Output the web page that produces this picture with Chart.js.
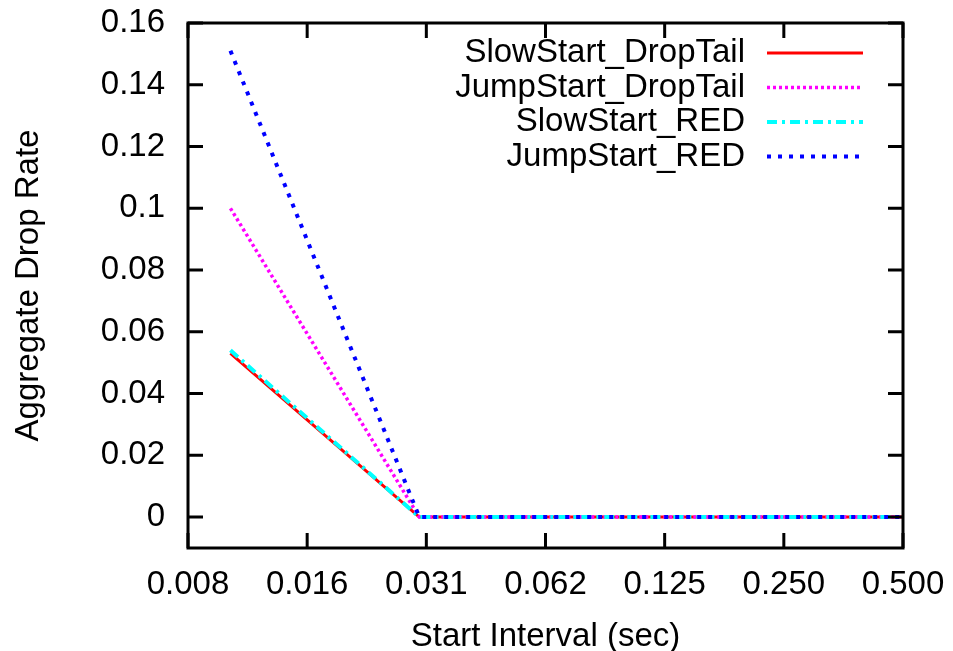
<!DOCTYPE html>
<html>
<head>
<meta charset="utf-8">
<script src="https://cdn.jsdelivr.net/npm/chart.js@4/dist/chart.umd.min.js"></script>
<style>
  html, body { margin: 0; padding: 0; background: #fff; }
  #wrap { width: 953px; height: 651px; }
</style>
</head>
<body>
<div id="wrap"><canvas id="chart"></canvas></div>
<script>
// start interval (sec), log2 axis
const intervals = [0.01, 0.03, 0.0625, 0.125, 0.25, 0.5];
const slowStartDropTail = [0.053, 0, 0, 0, 0, 0];
const jumpStartDropTail = [0.1, 0, 0, 0, 0, 0];
const slowStartRED = [0.054, 0, 0, 0, 0, 0];
const jumpStartRED = [0.151, 0, 0, 0, 0, 0];

const xTickValues = [0.0078125, 0.015625, 0.03125, 0.0625, 0.125, 0.25, 0.5];
const xTickLabels = ['0.008', '0.016', '0.031', '0.062', '0.125', '0.250', '0.500'];
const yTickValues = [0, 0.02, 0.04, 0.06, 0.08, 0.1, 0.12, 0.14, 0.16];
const yTickLabels = ['0', '0.02', '0.04', '0.06', '0.08', '0.1', '0.12', '0.14', '0.16'];

const FONT = 'Liberation Sans, Arial, sans-serif';

const pts = vals => vals.map((v, i) => ({x: intervals[i], y: v}));

// gnuplot-like frame: box, inward ticks, key with samples on the right
const framePlugin = {
    id: 'frame',
    afterDatasetsDraw(chart) {
        const {ctx, chartArea: a, scales: {x, y}} = chart;
        ctx.save();
        ctx.strokeStyle = '#000';
        ctx.lineWidth = 3;
        ctx.beginPath();
        x.ticks.forEach(t => {
            const px = x.getPixelForValue(t.value);
            ctx.moveTo(px, a.bottom); ctx.lineTo(px, a.bottom - 15);
            ctx.moveTo(px, a.top); ctx.lineTo(px, a.top + 15);
        });
        y.ticks.forEach(t => {
            const py = y.getPixelForValue(t.value);
            ctx.moveTo(a.left, py); ctx.lineTo(a.left + 15, py);
            ctx.moveTo(a.right, py); ctx.lineTo(a.right - 15, py);
        });
        ctx.stroke();
        ctx.strokeRect(a.left, a.top, a.width, a.height);

        // key
        ctx.font = '33px ' + FONT;
        ctx.textAlign = 'right';
        ctx.textBaseline = 'middle';
        chart.data.datasets.forEach((ds, i) => {
            const ry = a.top + 30 + i * 34.5;
            ctx.fillStyle = '#000';
            ctx.fillText(ds.label, a.right - 158, ry);
            ctx.strokeStyle = ds.borderColor;
            ctx.lineWidth = ds.borderWidth;
            ctx.setLineDash(ds.borderDash || []);
            ctx.beginPath();
            ctx.moveTo(a.right - 136, ry);
            ctx.lineTo(a.right - 40, ry);
            ctx.stroke();
        });
        ctx.restore();
    }
};

new Chart(document.getElementById('chart'), {
    type: 'line',
    data: {
        datasets: [
            {label: 'SlowStart_DropTail', data: pts(slowStartDropTail), borderColor: '#ff0000', borderWidth: 3, order: 3},
            {label: 'JumpStart_DropTail', data: pts(jumpStartDropTail), borderColor: '#ff00ff', borderWidth: 3.5, borderDash: [3, 3], order: 2},
            {label: 'SlowStart_RED', data: pts(slowStartRED), borderColor: '#00ffff', borderWidth: 4, borderDash: [10, 5, 3, 5], order: 1},
            {label: 'JumpStart_RED', data: pts(jumpStartRED), borderColor: '#0000ff', borderWidth: 4, borderDash: [4, 7], order: 0}
        ]
    },
    options: {
        responsive: true,
        maintainAspectRatio: false,
        animation: false,
        layout: {padding: {top: 23, right: 50, left: 0, bottom: 0}},
        elements: {
            point: {radius: 0},
            line: {tension: 0, borderCapStyle: 'butt'}
        },
        plugins: {
            legend: {display: false},
            tooltip: {enabled: false}
        },
        scales: {
            x: {
                type: 'logarithmic',
                min: 0.0078125,
                max: 0.5,
                afterBuildTicks: scale => { scale.ticks = xTickValues.map(v => ({value: v})); },
                afterFit: scale => {
                    scale.height = 103;
                    scale.paddingLeft = 0;
                    scale.paddingRight = 0;
                },
                grid: {display: false, drawTicks: false},
                border: {display: false},
                ticks: {
                    autoSkip: false,
                    maxRotation: 0,
                    padding: 17,
                    color: '#000',
                    font: {family: FONT, size: 33},
                    callback: (v, i) => xTickLabels[i]
                },
                title: {
                    display: true,
                    text: 'Start Interval (sec)',
                    color: '#000',
                    font: {family: FONT, size: 33},
                    padding: {top: 0, bottom: -6}
                }
            },
            y: {
                type: 'linear',
                min: -0.01,
                max: 0.16,
                afterBuildTicks: scale => { scale.ticks = yTickValues.map(v => ({value: v})); },
                afterFit: scale => {
                    scale.width = 188;
                    scale.paddingTop = 0;
                    scale.paddingBottom = 0;
                },
                grid: {display: false, drawTicks: false},
                border: {display: false},
                ticks: {
                    padding: 23,
                    color: '#000',
                    font: {family: FONT, size: 33},
                    callback: (v, i) => yTickLabels[i]
                },
                title: {
                    display: true,
                    text: 'Aggregate Drop Rate',
                    color: '#000',
                    font: {family: FONT, size: 33},
                    padding: {top: 9, bottom: 0}
                }
            }
        }
    },
    plugins: [framePlugin]
});
</script>
</body>
</html>
